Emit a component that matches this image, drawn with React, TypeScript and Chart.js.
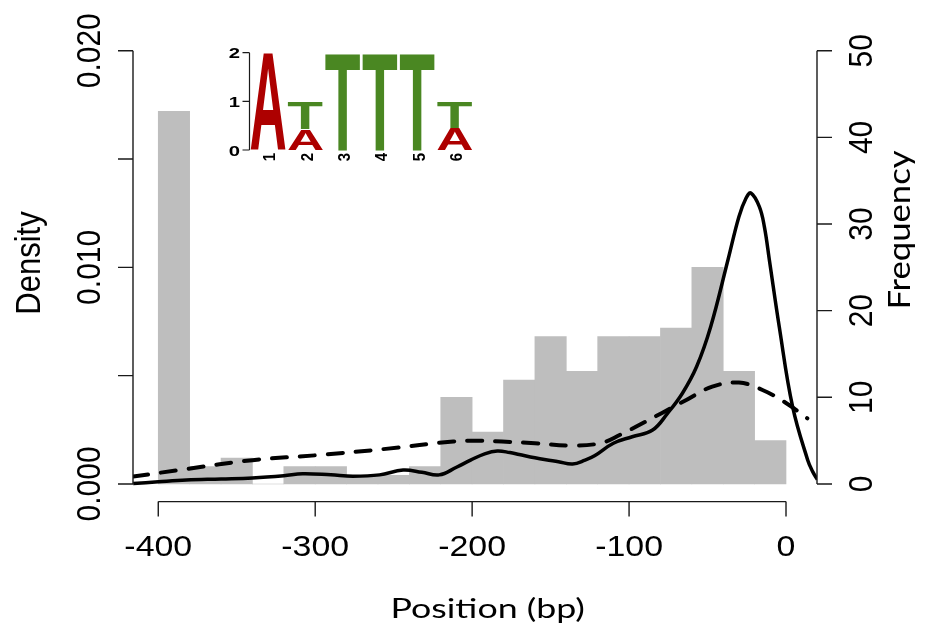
import React, { useEffect, useRef } from 'react';
import { Chart, registerables } from 'chart.js';
Chart.register(...registerables);

// ---------- data ----------
const binCenters = [-390, -370, -350, -330, -310, -290, -270, -250, -230, -210, -190, -170, -150, -130, -110, -90, -70, -50, -30, -10];
const binCounts = [43, 2, 3, 0, 2, 2, 1, 1, 2, 10, 6, 12, 17, 13, 17, 17, 18, 25, 13, 5];

const solidX = [-416, -400, -382, -360, -340, -320, -308, -290, -276, -259, -244, -232, -221, -210, -201, -192, -184, -176, -170, -160, -153, -145, -136, -128, -122, -110, -98, -85, -75.5, -66, -57, -48, -37, -30, -25.5, -22.4, -17, -13.8, -10.6, -4.3, 4.2, 13.8, 17, 20];
const solidY = [0.00002, 0.0001, 0.00018, 0.00023, 0.00028, 0.00038, 0.00047, 0.00042, 0.00036, 0.00042, 0.00064, 0.00054, 0.00042, 0.00077, 0.0011, 0.00139, 0.00152, 0.00145, 0.00136, 0.00121, 0.00112, 0.00103, 0.00092, 0.0011, 0.0013, 0.00188, 0.00218, 0.00249, 0.00326, 0.00419, 0.00541, 0.00726, 0.01034, 0.01234, 0.01319, 0.01343, 0.0128, 0.01188, 0.01034, 0.00726, 0.00357, 0.00111, 0.00057, 0.0002];

const dashX = [-416, -382, -340, -297, -255, -212, -195, -181, -160, -136, -118, -106, -79, -63.5, -47, -30, -15, 0, 13.6];
const dashY = [0.00034, 0.00069, 0.0011, 0.00134, 0.00162, 0.00196, 0.002, 0.00196, 0.00188, 0.00177, 0.00189, 0.00226, 0.00328, 0.00388, 0.00449, 0.00468, 0.00434, 0.00374, 0.00303];

const xTicks = [-400, -300, -200, -100, 0];
const xTickLabels = ['-400', '-300', '-200', '-100', '0'];
const densityTicks = [0, 0.005, 0.01, 0.015, 0.02];
const densityTickLabels = ['0.000', '', '0.010', '', '0.020'];
const freqTicks = [0, 10, 20, 30, 40, 50];
const freqTickLabels = ['0', '10', '20', '30', '40', '50'];

const logoPositions = ['1', '2', '3', '4', '5', '6'];
const logoA = [2, 0.43, 0, 0, 0, 0.445];
const logoT = [0, 0.56, 2, 2, 2, 0.53];
const logoTicks = [0, 1, 2];
const logoTickLabels = ['0', '1', '2'];

const xLabel = 'Position (bp)';
const yLabel = 'Density';
const y2Label = 'Frequency';

// ---------- styles ----------
const SANS = '"Liberation Sans"';
const HUM = 'Lato';
const AXIS = '#1a1a1a';
const RED = '#AD0000';
const GREEN = '#4A8722';

function txt(ctx: CanvasRenderingContext2D, s: string, x: number, y: number, o: any) {
  ctx.save();
  ctx.translate(x, y);
  ctx.scale(o.sx || 1, 1);
  if (o.rot) ctx.rotate(o.rot);
  ctx.font = o.font;
  ctx.textAlign = o.align || 'center';
  ctx.textBaseline = o.baseline || 'alphabetic';
  ctx.fillStyle = o.color || '#000';
  ctx.fillText(s, 0, 0);
  ctx.restore();
}

function fitText(ctx: CanvasRenderingContext2D, s: string, family: string, x: number, y: number, length: number, capH: number, rotated: boolean) {
  ctx.save();
  ctx.font = `100px ${family}`;
  const m = ctx.measureText(s);
  const w = m.actualBoundingBoxLeft + m.actualBoundingBoxRight;
  const cap = ctx.measureText('H').actualBoundingBoxAscent;
  ctx.restore();
  let size: number, sx: number;
  if (rotated) {
    size = (100 * length) / w;
    sx = capH / ((cap * size) / 100);
  } else {
    size = (100 * capH) / cap;
    sx = length / ((w * size) / 100);
  }
  txt(ctx, s, x, y, { font: `${size}px ${family}`, sx, rot: rotated ? -Math.PI / 2 : 0 });
}

const mainAxesPlugin = {
  id: 'rAxes',
  afterDraw(chart: any) {
    const { ctx, chartArea: a, scales } = chart;
    const x = scales.x, y = scales.y, yF = scales.yF;
    ctx.save();
    ctx.strokeStyle = AXIS;
    ctx.lineWidth = 1.4;
    const yb = a.bottom + 0.3;
    ctx.beginPath();
    ctx.moveTo(x.getPixelForValue(xTicks[0]), yb);
    ctx.lineTo(x.getPixelForValue(xTicks[xTicks.length - 1]), yb);
    xTicks.forEach((t) => {
      const px = x.getPixelForValue(t);
      ctx.moveTo(px, yb);
      ctx.lineTo(px, yb + 15);
    });
    const xl = a.left;
    ctx.moveTo(xl, y.getPixelForValue(densityTicks[0]));
    ctx.lineTo(xl, y.getPixelForValue(densityTicks[densityTicks.length - 1]));
    densityTicks.forEach((t) => {
      const py = y.getPixelForValue(t);
      ctx.moveTo(xl, py);
      ctx.lineTo(xl - 15, py);
    });
    const xr = a.right;
    ctx.moveTo(xr, yF.getPixelForValue(freqTicks[0]));
    ctx.lineTo(xr, yF.getPixelForValue(freqTicks[freqTicks.length - 1]));
    freqTicks.forEach((t) => {
      const py = yF.getPixelForValue(t);
      ctx.moveTo(xr, py);
      ctx.lineTo(xr + 15, py);
    });
    ctx.stroke();
    ctx.restore();

    const tickFont = `30px ${SANS}`;
    xTicks.forEach((t, i) => {
      txt(ctx, xTickLabels[i], x.getPixelForValue(t), yb + 54.5, { font: tickFont, sx: 1.13 });
    });
    densityTicks.forEach((t, i) => {
      if (!densityTickLabels[i]) return;
      txt(ctx, densityTickLabels[i], xl - 33, y.getPixelForValue(t), { font: tickFont, sx: 1.13, rot: -Math.PI / 2 });
    });
    freqTicks.forEach((t, i) => {
      txt(ctx, freqTickLabels[i], xr + 55, yF.getPixelForValue(t), { font: tickFont, sx: 1.13, rot: -Math.PI / 2 });
    });
    txt(ctx, yLabel, 40, 263, { font: `31px ${SANS}`, sx: 1.13, rot: -Math.PI / 2 });
    fitText(ctx, y2Label, HUM, 910, 230, 156, 22, true);
    fitText(ctx, xLabel, HUM, 487.7, 618.3, 190, 20, false);
  },
};

const logoPlugin = {
  id: 'logoLetters',
  afterDatasetsDraw(chart: any) {
    const { ctx } = chart;
    chart.data.datasets.forEach((ds: any, i: number) => {
      const meta = chart.getDatasetMeta(i);
      meta.data.forEach((bar: any) => {
        const p = bar.getProps(['x', 'y', 'base', 'width'], true);
        const top = Math.min(p.y, p.base);
        const bot = Math.max(p.y, p.base);
        const h = bot - top;
        if (h < 0.5) return;
        ctx.save();
        ctx.font = `bold 100px ${SANS}`;
        ctx.textAlign = 'left';
        ctx.textBaseline = 'alphabetic';
        const m = ctx.measureText(ds.label);
        const iw = m.actualBoundingBoxLeft + m.actualBoundingBoxRight;
        const ih = m.actualBoundingBoxAscent + m.actualBoundingBoxDescent;
        ctx.translate(p.x - p.width / 2, bot);
        ctx.scale(p.width / iw, h / ih);
        ctx.fillStyle = ds.letterColor;
        ctx.fillText(ds.label, m.actualBoundingBoxLeft, -m.actualBoundingBoxDescent);
        ctx.restore();
      });
    });
  },
  afterDraw(chart: any) {
    const { ctx, chartArea: a, scales } = chart;
    const x = scales.x, y = scales.y;
    ctx.save();
    ctx.strokeStyle = AXIS;
    ctx.lineWidth = 1.2;
    ctx.beginPath();
    ctx.moveTo(a.left, y.getPixelForValue(logoTicks[0]));
    ctx.lineTo(a.left, y.getPixelForValue(logoTicks[logoTicks.length - 1]));
    logoTicks.forEach((t) => {
      const py = y.getPixelForValue(t);
      ctx.moveTo(a.left, py);
      ctx.lineTo(a.left - 7, py);
    });
    ctx.stroke();
    ctx.restore();
    logoTicks.forEach((t, i) => {
      txt(ctx, logoTickLabels[i], a.left - 9.5, y.getPixelForValue(t) + 5.6, { font: `bold 15px ${SANS}`, sx: 1.35, align: 'right' });
    });
    logoPositions.forEach((lab, j) => {
      const cx = x.getPixelForValue(j);
      txt(ctx, lab, cx + 7, a.bottom + 7, { font: `bold 15px ${SANS}`, sx: 1.1, rot: -Math.PI / 2 });
    });
  },
};

export default function App() {
  const mainRef = useRef<HTMLCanvasElement>(null);
  const logoRef = useRef<HTMLCanvasElement>(null);

  useEffect(() => {
    document.body.style.margin = '0';
    let main: Chart | null = null;
    let logo: Chart | null = null;
    let cancelled = false;

    const build = () => {
      if (cancelled) return;
      main = new Chart(mainRef.current!, {
        type: 'bar',
        data: {
          datasets: [
            {
              type: 'bar',
              label: 'Frequency',
              data: binCenters.map((c, i) => ({ x: c, y: binCounts[i] })),
              yAxisID: 'yF',
              backgroundColor: '#BEBEBE',
              borderWidth: 0,
              barPercentage: 1,
              categoryPercentage: 1,
              order: 3,
            } as any,
            {
              type: 'line',
              label: 'solid',
              data: solidX.map((v, i) => ({ x: v, y: solidY[i] })),
              yAxisID: 'y',
              borderColor: '#000',
              borderWidth: 3.5,
              pointRadius: 0,
              tension: 0.4,
              fill: false,
              order: 1,
            } as any,
            {
              type: 'line',
              label: 'dashed',
              data: dashX.map((v, i) => ({ x: v, y: dashY[i] })),
              yAxisID: 'y',
              borderColor: '#000',
              borderWidth: 4,
              borderDash: [15, 13],
              borderCapStyle: 'round',
              pointRadius: 0,
              tension: 0.4,
              fill: false,
              order: 2,
            } as any,
          ],
        },
        options: {
          responsive: false,
          animation: false,
          layout: { padding: { left: 133, right: 116, top: 33.4, bottom: 131.7 } },
          scales: {
            x: { type: 'linear', min: -416.1, max: 19.75, offset: false, display: false },
            y: { type: 'linear', min: -0.0008, max: 0.0208, display: false },
            yF: { type: 'linear', min: -2, max: 52, display: false },
          },
          plugins: { legend: { display: false }, tooltip: { enabled: false } },
        },
        plugins: [mainAxesPlugin],
      });

      logo = new Chart(logoRef.current!, {
        type: 'bar',
        data: {
          labels: logoPositions,
          datasets: [
            { label: 'A', data: logoA, backgroundColor: 'rgba(0,0,0,0)', letterColor: RED } as any,
            { label: 'T', data: logoT, backgroundColor: 'rgba(0,0,0,0)', letterColor: GREEN } as any,
          ],
        },
        options: {
          responsive: false,
          animation: false,
          layout: { padding: { left: 49.5, right: 26.5, top: 22.7, bottom: 20 } },
          datasets: { bar: { categoryPercentage: 1, barPercentage: 0.94 } },
          scales: {
            x: { stacked: true, display: false },
            y: { stacked: true, min: 0, max: 2, display: false },
          },
          plugins: { legend: { display: false }, tooltip: { enabled: false } },
        },
        plugins: [logoPlugin],
      });
    };

    const fontsApi: any = (document as any).fonts;
    if (fontsApi && fontsApi.load) {
      Promise.all([
        fontsApi.load(`30px ${SANS}`),
        fontsApi.load(`bold 30px ${SANS}`),
        fontsApi.load(`30px ${HUM}`),
      ]).then(build, build);
    } else {
      build();
    }

    return () => {
      cancelled = true;
      if (main) main.destroy();
      if (logo) logo.destroy();
    };
  }, []);

  return (
    <div style={{ position: 'relative', width: 933, height: 633, background: '#fff' }}>
      <canvas ref={mainRef} width={933} height={633} style={{ position: 'absolute', left: 0, top: 0 }} />
      <canvas ref={logoRef} width={300} height={140} style={{ position: 'absolute', left: 200, top: 30 }} />
    </div>
  );
}
